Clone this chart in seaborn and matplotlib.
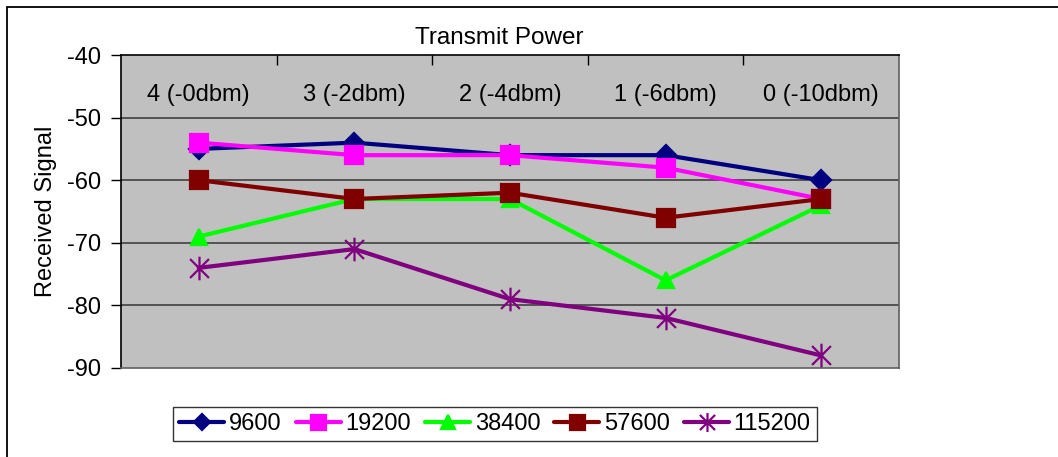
import matplotlib
matplotlib.use("Agg")
import matplotlib.pyplot as plt
import matplotlib.transforms as mtransforms
from matplotlib.patches import Rectangle
from matplotlib.path import Path
import seaborn as sns
import pandas as pd

categories = ["4 (-0dbm)", "3 (-2dbm)", "2 (-4dbm)", "1 (-6dbm)", "0 (-10dbm)"]
series_names = ["9600", "19200", "38400", "57600", "115200"]
s9600 = [-55, -54, -56, -56, -60]
s19200 = [-54, -56, -56, -58, -63]
s38400 = [-69, -63, -63, -76, -64]
s57600 = [-60, -63, -62, -66, -63]
s115200 = [-74, -71, -79, -82, -88]
y_ticks = [-40, -50, -60, -70, -80, -90]
title = "Transmit Power"
ylabel = "Received Signal"

values = [s9600, s19200, s38400, s57600, s115200]
colors = ["#000080", "#FF00FF", "#00FF00", "#800000", "#800080"]

star = Path([(0, -1), (0, 1), (-0.8, -0.8), (0.8, 0.8), (-0.8, 0.8), (0.8, -0.8)],
            [Path.MOVETO, Path.LINETO, Path.MOVETO, Path.LINETO, Path.MOVETO, Path.LINETO])
markers = ["D", "s", "^", "s", star]
msizes = [10.5, 13.5, 12, 13.5, 17]

sns.set_style("white")
plt.rcParams["font.family"] = ["Liberation Sans", "DejaVu Sans"]
for k in ["text.color", "axes.labelcolor", "xtick.color", "ytick.color"]:
    plt.rcParams[k] = "black"
FS = 17

fig = plt.figure(figsize=(10.58, 4.57), dpi=100)
ax = fig.add_axes([121/1058, 1-368/457, 778/1058, 313/457])
ax.set_facecolor("#C0C0C0")

rows = []
for name, vals in zip(series_names, values):
    for i, v in enumerate(vals):
        rows.append({"series": name, "x": i, "y": v})
df = pd.DataFrame(rows)

for name, col, mk, ms in zip(series_names, colors, markers, msizes):
    sub = df[df["series"] == name]
    sns.lineplot(data=sub, x="x", y="y", ax=ax, color=col, lw=3, marker=mk,
                 markersize=ms, markeredgecolor=col, markerfacecolor=col,
                 markeredgewidth=1.6, label=name, zorder=3)

ax.set_xlim(-0.5, len(categories) - 0.5)
ax.set_ylim(-90, -40)
ax.set_yticks(y_ticks)
ax.set_yticklabels([str(t) for t in y_ticks], fontsize=FS)
ax.tick_params(axis="y", direction="out", length=7, width=1, color="black", pad=7.5, left=True)
for t in y_ticks[1:-1]:
    ax.axhline(t, color="#404040", lw=1.2, zorder=1)

# category axis on top, ticks between categories
ax.set_xticks([])
ax.set_xticks([i + 0.5 for i in range(len(categories) - 1)], minor=True)
ax.tick_params(axis="x", which="minor", direction="in", top=True, bottom=False,
               length=7, width=1, color="black")
ax.set_xlabel("")
tr = mtransforms.blended_transform_factory(ax.transData, ax.transAxes)
for i, c in enumerate(categories):
    ax.text(i, 0.872, c, transform=tr, ha="center", va="center", fontsize=FS)

for side in ["left", "top"]:
    ax.spines[side].set_color("black")
    ax.spines[side].set_linewidth(1.2)
for side in ["right", "bottom"]:
    ax.spines[side].set_color("#606060")
    ax.spines[side].set_linewidth(1.2)

ax.set_ylabel(ylabel, fontsize=FS)
ax.yaxis.set_label_coords((57-121)/778, 0.5)

fig.text(499/1058, 1-38/457, title, ha="center", va="center", fontsize=17.5)

handles, labels = ax.get_legend_handles_labels()
leg = ax.legend(handles, labels, ncol=5, loc="center",
                bbox_to_anchor=(495/1058, 1-424/457), bbox_transform=fig.transFigure,
                frameon=True, fancybox=False, fontsize=FS, handlelength=1.9,
                handletextpad=0.2, columnspacing=0.6, borderpad=0.25,
                markerscale=0.8)
leg.get_frame().set_edgecolor("black")
leg.get_frame().set_linewidth(1.0)

fig.patches.append(Rectangle((7/1058, -0.2), 1.2, 1.2 - 7/457, transform=fig.transFigure,
                             fill=False, edgecolor="black", lw=1.3, clip_on=False))

fig.savefig("out.png", dpi=100)
